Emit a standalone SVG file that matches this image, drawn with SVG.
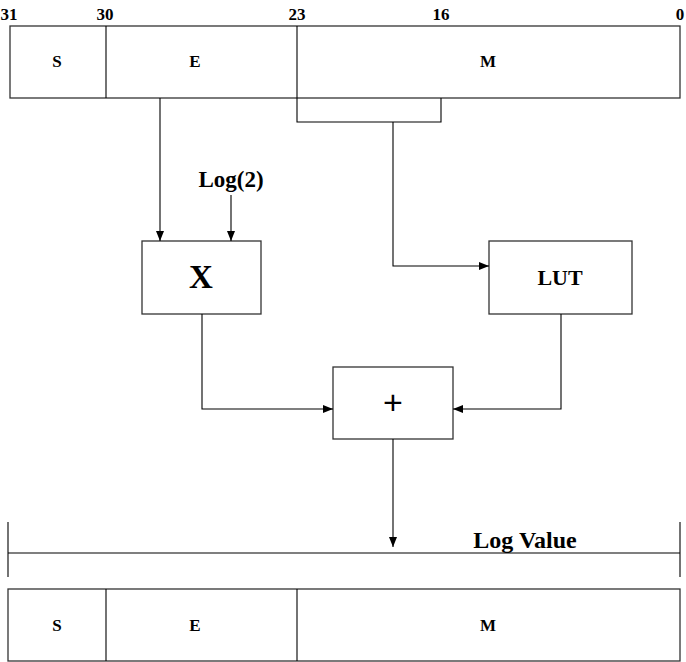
<svg xmlns="http://www.w3.org/2000/svg" width="686" height="662" viewBox="0 0 686 662">
<defs>
<marker id="arr" viewBox="0 0 10 10" refX="10" refY="5" markerWidth="10" markerHeight="10" markerUnits="userSpaceOnUse" orient="auto">
<path d="M0,1 L10,5 L0,9 z" fill="#000"/>
</marker>
<style>
.box{fill:#fff;stroke:#333;stroke-width:1.3}
.ln{fill:none;stroke:#000;stroke-width:1.1}
.t{font-family:"Liberation Serif",serif;font-weight:bold;fill:#000;text-anchor:middle}
</style>
</defs>
<rect width="686" height="662" fill="#fff"/>
<g id="top-register">
<rect class="box" x="10" y="26" width="670" height="72"/>
<line class="ln" x1="106" y1="26" x2="106" y2="98"/>
<line class="ln" x1="297" y1="26" x2="297" y2="98"/>
<text class="t" x="57" y="67" font-size="17">S</text>
<text class="t" x="195" y="67" font-size="17">E</text>
<text class="t" x="488" y="67" font-size="17">M</text>
<text class="t" x="9" y="20" font-size="17">31</text>
<text class="t" x="105" y="20" font-size="17">30</text>
<text class="t" x="297" y="20" font-size="17">23</text>
<text class="t" x="441" y="20" font-size="17">16</text>
<text class="t" x="680" y="20" font-size="17">0</text>
</g>
<g id="log2-label">
<text class="t" x="231" y="187" font-size="23">Log(2)</text>
</g>
<g id="mult">
<rect class="box" x="142" y="241" width="119" height="73"/>
<text class="t" x="201" y="288" font-size="33">X</text>
</g>
<g id="lut">
<rect class="box" x="489" y="241" width="143" height="73"/>
<text class="t" x="560" y="285" font-size="22">LUT</text>
</g>
<g id="adder">
<rect class="box" x="333" y="367" width="120" height="72"/>
<text x="393" y="414" font-size="34" font-family="Liberation Sans,sans-serif" text-anchor="middle" fill="#000">+</text>
</g>
<g id="log-value">
<line class="ln" x1="8" y1="553" x2="680" y2="553"/>
<line class="ln" x1="8" y1="522" x2="8" y2="577"/>
<line class="ln" x1="680" y1="522" x2="680" y2="577"/>
<text class="t" x="525" y="548" font-size="24">Log Value</text>
</g>
<g id="bottom-register">
<rect class="box" x="8" y="589" width="672" height="72"/>
<line class="ln" x1="106" y1="589" x2="106" y2="661"/>
<line class="ln" x1="297" y1="589" x2="297" y2="661"/>
<text class="t" x="57" y="631" font-size="17">S</text>
<text class="t" x="195" y="631" font-size="17">E</text>
<text class="t" x="488" y="631" font-size="17">M</text>
</g>
<g id="connectors">
<path class="ln" d="M297,98 V122 H441 V98"/>
<path class="ln" d="M393,122 V266 H489" marker-end="url(#arr)"/>
<path class="ln" d="M160,98 V241" marker-end="url(#arr)"/>
<path class="ln" d="M231,195 V241" marker-end="url(#arr)"/>
<path class="ln" d="M202,314 V409 H333" marker-end="url(#arr)"/>
<path class="ln" d="M561,314 V409 H453" marker-end="url(#arr)"/>
<path class="ln" d="M393,439 V547" marker-end="url(#arr)"/>
</g>
</svg>
